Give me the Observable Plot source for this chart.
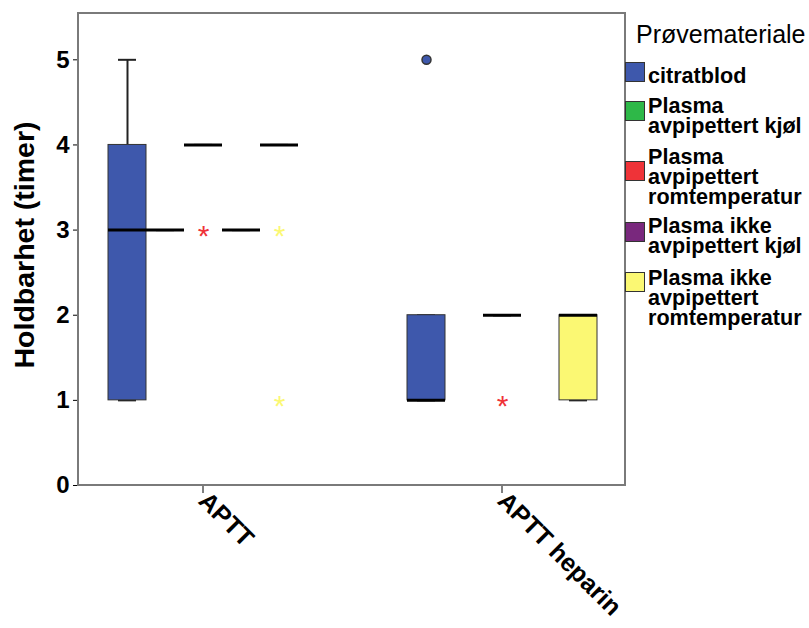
<!DOCTYPE html>
<html><head><meta charset="utf-8">
<script src="https://cdn.jsdelivr.net/npm/d3@7"></script>
<script src="https://cdn.jsdelivr.net/npm/@observablehq/plot@0.6"></script>
<style>
body{margin:0;background:#fff;}
#wrap{position:relative;width:809px;height:628px;overflow:hidden;font-family:"Liberation Sans",Arial,sans-serif;}
#wrap svg{position:absolute;left:0;top:0;}
.lg-title{position:absolute;left:636px;top:20px;font-size:25px;white-space:nowrap;color:#000;}
.lg-sw{position:absolute;left:625px;width:18px;height:18px;border:1px solid #333;}
.lg-tx{position:absolute;left:648px;font-size:21.6px;font-weight:bold;line-height:20px;white-space:pre;color:#000;}
</style></head><body><div id="wrap"></div>
<script>
// ---- data ----
const groups = ["APTT", "APTT heparin"];
const series = ["citratblod", "Plasma avpipettert kjøl", "Plasma avpipettert romtemperatur", "Plasma ikke avpipettert kjøl", "Plasma ikke avpipettert romtemperatur"];
const seriesColors = ["#3e58ac", "#2eb848", "#ef3338", "#79287d", "#fbf873"];
const legendLabels = ["citratblod", "Plasma\navpipettert kjøl", "Plasma\navpipettert\nromtemperatur", "Plasma ikke\navpipettert kjøl", "Plasma ikke\navpipettert\nromtemperatur"];
const yTicks = [0, 1, 2, 3, 4, 5];

// box statistics
const boxGroup = ["APTT", "APTT", "APTT", "APTT", "APTT", "APTT heparin", "APTT heparin", "APTT heparin"];
const boxSeries = ["citratblod", "Plasma avpipettert kjøl", "Plasma avpipettert romtemperatur", "Plasma ikke avpipettert kjøl", "Plasma ikke avpipettert romtemperatur", "citratblod", "Plasma avpipettert romtemperatur", "Plasma ikke avpipettert romtemperatur"];
const boxQ1 = [1, 3, 4, 3, 4, 1, 2, 1];
const boxMedian = [3, 3, 4, 3, 4, 1, 2, 2];
const boxQ3 = [4, 3, 4, 3, 4, 2, 2, 2];
const whiskerLow = [1, 3, 4, 3, 4, 1, 2, 1];
const whiskerHigh = [5, 3, 4, 3, 4, 2, 2, 2];

// outliers (circles) and extremes (stars)
const outlierGroup = ["APTT heparin"];
const outlierSeries = ["citratblod"];
const outlierValue = [5];
const extremeGroup = ["APTT", "APTT", "APTT", "APTT heparin"];
const extremeSeries = ["Plasma avpipettert romtemperatur", "Plasma ikke avpipettert romtemperatur", "Plasma ikke avpipettert romtemperatur", "Plasma avpipettert romtemperatur"];
const extremeValue = [3, 3, 1, 1];

// ---- tables ----
const boxes = boxGroup.map((g, i) => ({group: g, series: boxSeries[i], q1: boxQ1[i], med: boxMedian[i], q3: boxQ3[i], lo: whiskerLow[i], hi: whiskerHigh[i]}));
const outliers = outlierGroup.map((g, i) => ({group: g, series: outlierSeries[i], value: outlierValue[i]}));
const extremes = extremeGroup.map((g, i) => ({group: g, series: extremeSeries[i], value: extremeValue[i]}));

const W = 809, H = 628;
const mL = 78, mR = 184, mT = 13, mB = 143;

const plot = Plot.plot({
  width: W, height: H,
  marginLeft: mL, marginRight: mR, marginTop: mT, marginBottom: mB,
  style: {fontFamily: "Liberation Sans, Arial, sans-serif", fontSize: "21px", fontWeight: "bold", color: "#000", background: "transparent"},
  fx: {domain: groups, paddingInner: 0.174, paddingOuter: 0, label: null, axis: "bottom", tickRotate: 45, tickSize: 8, tickPadding: 3},
  x: {domain: series, paddingInner: 0, paddingOuter: 0.73, axis: null},
  y: {domain: [0, 5.544], ticks: yTicks, tickSize: 6, tickPadding: 4, label: null, tickFormat: d3.format("d")},
  color: {domain: series, range: seriesColors},
  marks: [
    Plot.ruleX(boxes, {fx: "group", x: "series", y1: "lo", y2: "q1", stroke: "#222", strokeWidth: 2}),
    Plot.ruleX(boxes, {fx: "group", x: "series", y1: "q3", y2: "hi", stroke: "#222", strokeWidth: 2}),
    Plot.tickY(boxes, {fx: "group", x: "series", y: "hi", stroke: "#222", strokeWidth: 2, insetLeft: 10, insetRight: 10}),
    Plot.tickY(boxes, {fx: "group", x: "series", y: "lo", stroke: "#222", strokeWidth: 2, insetLeft: 10, insetRight: 10}),
    Plot.barY(boxes, {fx: "group", x: "series", y1: "q1", y2: "q3", fill: "series", stroke: "#333", strokeWidth: 1}),
    Plot.tickY(boxes, {fx: "group", x: "series", y: "med", stroke: "#000", strokeWidth: 3}),
    Plot.dot(outliers, {fx: "group", x: "series", y: "value", fill: "series", stroke: "#333", strokeWidth: 1.5, r: 4.5}),
    Plot.text(extremes, {fx: "group", x: "series", y: "value", text: () => "*", fill: "series", fontSize: 30, fontWeight: "normal", dy: 6})
  ]
});

const wrap = document.getElementById("wrap");
wrap.appendChild(plot);

const svg = d3.select(plot);
// enlarge axis tick labels
svg.selectAll("g[aria-label]").each(function() {
  const lab = this.getAttribute("aria-label") || "";
  if (lab.startsWith("y-axis")) d3.select(this).selectAll("text").style("font-size", "24px").style("font-weight", "bold");
  if (lab.startsWith("fx-axis")) d3.select(this).selectAll("text").style("font-size", "25px").style("font-weight", "bold");
});
svg.append("rect")
  .attr("x", mL).attr("y", mT).attr("width", W - mL - mR).attr("height", H - mT - mB)
  .attr("fill", "none").attr("stroke", "#7a7a7a").attr("stroke-width", 2);
svg.append("text")
  .attr("transform", `translate(34,${245}) rotate(-90)`)
  .attr("text-anchor", "middle")
  .attr("font-size", 28.5).attr("font-weight", "bold")
  .text("Holdbarhet (timer)");

// ---- legend ----
const swTop = [62, 101, 161, 222, 272];
const txTop = [66, 96, 147, 216, 268];
const t = document.createElement("div");
t.className = "lg-title"; t.textContent = "Prøvemateriale";
wrap.appendChild(t);
legendLabels.forEach((lab, i) => {
  const s = document.createElement("div");
  s.className = "lg-sw"; s.style.top = swTop[i] + "px"; s.style.background = seriesColors[i];
  wrap.appendChild(s);
  const d = document.createElement("div");
  d.className = "lg-tx"; d.style.top = txTop[i] + "px"; d.textContent = lab;
  wrap.appendChild(d);
});
</script>
</body></html>
